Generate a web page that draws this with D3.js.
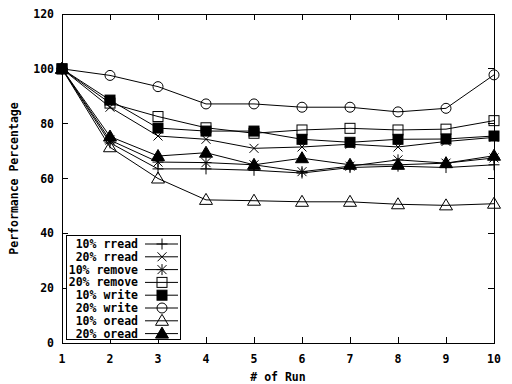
<!DOCTYPE html>
<html><head><meta charset="utf-8">
<script src="https://cdn.jsdelivr.net/npm/d3@7/dist/d3.min.js"></script>
<style>body{margin:0;background:#fff}svg{display:block}text{font-family:"DejaVu Sans Mono",monospace;font-weight:bold;font-size:11.5px;fill:#000}</style>
</head><body><svg id="c" width="512" height="384"></svg>
<script>
const runs = [1,2,3,4,5,6,7,8,9,10];
const seriesNames = ["10% rread","20% rread","10% remove","20% remove","10% write","20% write","10% oread","20% oread"];
const rread10  = [100,73,63.5,63.5,63,62,64,64.5,64,65];
const rread20  = [100,86,75.5,74.3,71,71.5,72.5,71.5,73.5,75];
const remove10 = [100,74,66,65.8,65,62.5,64.5,66.8,65.6,67.5];
const remove20 = [100,87.5,82.6,78.5,76.5,77.7,78.3,77.7,78,81.1];
const write10  = [100,88.6,78.4,77.3,77.3,74.3,73.2,74.3,74.4,75.5];
const write20  = [100,97.6,93.5,87.2,87.2,86,86,84.3,85.6,97.8];
const oread10  = [100,71.4,60,52.2,51.9,51.5,51.5,50.6,50.2,50.8];
const oread20  = [100,75.3,68.2,69.4,65,67.4,65,65,65.6,68.3];
const yTicks = [0,20,40,60,80,100,120];
const seriesValues = [rread10,rread20,remove10,remove20,write10,write20,oread10,oread20];
const markers = ["plus","cross","star","sq","sqf","circ","tri","trif"];

const svg = d3.select("#c");
const L=62,R=494,T=14,B=343;
const x = d3.scaleLinear().domain([1,10]).range([L,R]);
const y = d3.scaleLinear().domain([0,120]).range([B,T]);

// ticks (mirrored, inward)
const g = svg.append("g").attr("stroke","#000").attr("stroke-width",1).attr("shape-rendering","crispEdges");
yTicks.forEach(v=>{
  g.append("line").attr("x1",L).attr("x2",L+6).attr("y1",y(v)).attr("y2",y(v));
  g.append("line").attr("x1",R).attr("x2",R-6).attr("y1",y(v)).attr("y2",y(v));
});
runs.forEach(v=>{
  g.append("line").attr("x1",x(v)).attr("x2",x(v)).attr("y1",B).attr("y2",B-6);
  g.append("line").attr("x1",x(v)).attr("x2",x(v)).attr("y1",T).attr("y2",T+6);
});
svg.append("rect").attr("x",L).attr("y",T).attr("width",R-L).attr("height",B-T)
  .attr("fill","none").attr("stroke","#000").attr("shape-rendering","crispEdges");

svg.selectAll(".yl").data(yTicks).enter().append("text")
  .attr("x",L-8).attr("y",d=>y(d)+4).attr("text-anchor","end").text(d=>d);
svg.selectAll(".xl").data(runs).enter().append("text")
  .attr("x",d=>x(d)).attr("y",B+20).attr("text-anchor","middle").text(d=>d);
svg.append("text").attr("x",(L+R)/2).attr("y",381).attr("text-anchor","middle").text("# of Run");
svg.append("text").attr("transform",`translate(18,${(T+B)/2}) rotate(-90)`).attr("text-anchor","middle").text("Performance Percentage");

function marker(sel,type,cx,cy){
  const s=sel.append("g").attr("transform",`translate(${cx},${cy})`).attr("stroke","#000").attr("stroke-width",1);
  const h=5.5;
  if(type==="plus"||type==="star"){
    s.append("path").attr("d",`M${-h},0H${h}M0,${-h}V${h}`).attr("fill","none");
  }
  if(type==="cross"||type==="star"){
    const k=4.5;
    s.append("path").attr("d",`M${-k},${-k}L${k},${k}M${-k},${k}L${k},${-k}`).attr("fill","none");
  }
  if(type==="sq"||type==="sqf"){
    s.append("rect").attr("x",-5).attr("y",-5).attr("width",10).attr("height",10)
      .attr("fill",type==="sqf"?"#000":"none");
  }
  if(type==="circ"){
    s.append("circle").attr("r",5).attr("fill","none");
  }
  if(type==="tri"||type==="trif"){
    s.append("path").attr("d","M0,-6.5L6.5,4.5L-6.5,4.5Z").attr("fill",type==="trif"?"#000":"none");
  }
}

const line = d3.line().x((d,i)=>x(runs[i])).y(d=>y(d));
seriesValues.forEach((vals,si)=>{
  svg.append("path").attr("d",line(vals)).attr("fill","none").attr("stroke","#000").attr("stroke-width",1);
  const mg=svg.append("g");
  vals.forEach((v,i)=>marker(mg,markers[si],x(runs[i]),y(v)));
});

// legend
const lg=svg.append("g");
lg.append("rect").attr("x",66.5).attr("y",235.5).attr("width",114).attr("height",104)
  .attr("fill","#fff").attr("stroke","#000").attr("shape-rendering","crispEdges");
seriesNames.forEach((n,i)=>{
  const yy=244+i*12.8;
  lg.append("text").attr("x",138).attr("y",yy+4).attr("text-anchor","end").text(n);
  lg.append("line").attr("x1",145).attr("x2",178).attr("y1",yy).attr("y2",yy).attr("stroke","#000");
  marker(lg,markers[i],162,yy);
});
</script></body></html>
